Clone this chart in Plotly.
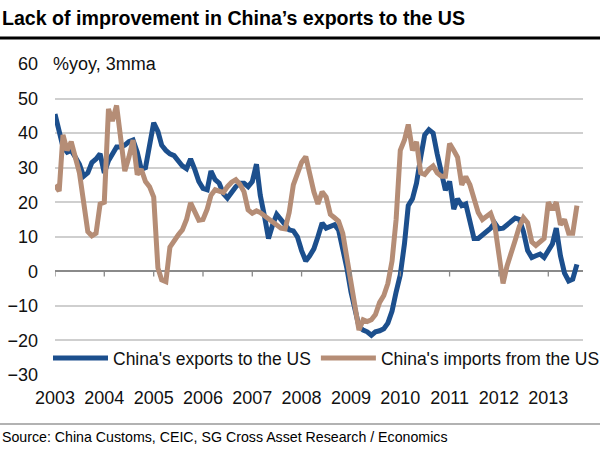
import pandas as pd
import plotly.graph_objects as go

# Monthly data, Jan 2003 - Aug 2013 (%yoy, 3mma)
start_month = "2003-01-01"
exports_to_us = [
    45.5, 41, 36, 34.5, 35, 33, 31, 27.5, 28.5, 31.5, 32.5, 34,
    28.5, 32, 34, 36, 36, 36.5, 37.5, 38, 34.5, 29.5, 30, 37,
    43, 40.5, 36.5, 35, 34, 33.5, 32, 30.5, 29.7, 32.5, 29.5, 26,
    24, 23.6, 29, 26.5, 25.5, 22.5, 21.2, 23, 24.5, 25.5, 25.5, 24.5,
    26, 31, 22, 16, 9.5, 13.5, 16.5, 15, 13.5, 12, 11.7, 10,
    6, 3, 4.5, 6.5, 10, 14, 12.5, 13, 13.5, 12, 7, 1,
    -6, -12, -16, -17, -17.5, -18.5, -17.5, -17.2, -16.6, -15, -11.5, -6,
    -1, 8, 19, 21, 25.5, 33, 39.5, 41, 40, 34, 28, 23.5,
    26, 18, 21, 19, 19.5, 14.5, 9.5, 9.5, 10.5, 11.2, 12.5, 14,
    12.3, 12.5, 13.3, 14.5, 15.4, 15, 11.5, 6, 4, 4.5, 5, 4,
    5.8, 8, 12.5, 4.5, -0.5, -2.8, -2.3, 2,
]
imports_from_us = [
    25, 23.2, 39.5, 35, 37.5, 33, 28.5, 20, 11.5, 10.3, 11, 19.5,
    20, 47, 43.5, 48, 38, 29, 33, 38, 28, 29.5, 26, 24.5,
    21.5, 1, -2.5, -3, 7, 9, 10.5, 12, 15, 19.8, 17.4, 14.8,
    15, 18, 22, 23.6, 23.2, 22.8, 24.5, 25.8, 26.5, 25.2, 23, 17.8,
    16.8, 17.5, 17, 16, 15, 14.3, 13.3, 12.5, 12.3, 17, 25, 28,
    31.5, 33.2, 27.5, 23, 19.5, 23, 21.5, 16.5, 15.5, 14.5, 11, 4,
    -5, -12, -17, -14, -14.5, -14, -12.5, -9, -7, -3.5, 3, 15,
    35, 38, 42.5, 35, 37.5, 28.5, 28, 29.5, 30.5, 28.5, 27.5, 27.5,
    37, 35, 33, 25, 27.4, 25, 21.5, 17, 15, 16, 16.8, 13.5,
    4, -3.5, 1.5, 6, 9, 13, 15.5, 14, 8.5, 7.5, 8.5, 9.5,
    20, 17.8, 20, 13.5, 15, 11, 11, 19,
]
year_labels = [str(y) for y in range(2003, 2014)]
y_ticks = [60, 50, 40, 30, 20, 10, 0, -10, -20, -30]
series_names = ["China's exports to the US", "China's imports from the US"]

dates = pd.date_range(start_month, periods=len(exports_to_us), freq="MS")

BLUE = "#1c4f8d"
TAN = "#b58d76"
FONT = "Liberation Sans, Arial, sans-serif"

W, H = 600, 450
ML, MR, MT, MB = 55, 17, 64, 75
plot_w = W - ML - MR
plot_h = H - MT - MB

fig = go.Figure()
fig.add_trace(go.Scatter(x=dates, y=exports_to_us, mode="lines",
                         name=series_names[0],
                         line=dict(color=BLUE, width=5)))
fig.add_trace(go.Scatter(x=dates, y=imports_from_us, mode="lines",
                         name=series_names[1],
                         line=dict(color=TAN, width=5)))

# tick marks on the zero axis at each year start
shapes = []
for y in year_labels:
    shapes.append(dict(type="line", xref="x", yref="y",
                       x0=f"{y}-01-01", x1=f"{y}-01-01", y0=0, y1=-1.5,
                       line=dict(color="#888888", width=1.3)))


def py(pix):
    return (H - MB - pix) / plot_h


def px(pix):
    return (pix - ML) / plot_w


# title rule and source rule
shapes.append(dict(type="line", xref="paper", yref="paper",
                   x0=px(0), x1=px(W), y0=py(38), y1=py(38),
                   line=dict(color="black", width=3)))
shapes.append(dict(type="line", xref="paper", yref="paper",
                   x0=px(0), x1=px(W), y0=py(424), y1=py(424),
                   line=dict(color="#999999", width=1.5)))

annotations = [
    dict(text="Lack of improvement in China\u2019s exports to the US",
         xref="paper", yref="paper", x=px(0), y=py(18),
         xanchor="left", yanchor="middle", showarrow=False,
         font=dict(family=FONT, size=19.6, color="black", weight="bold")),
    dict(text="%yoy, 3mma", xref="paper", yref="y", x=px(51), y=60,
         xanchor="left", yanchor="middle", showarrow=False,
         bgcolor="white", font=dict(family=FONT, size=18, color="#111111")),
    dict(text="Source: China Customs, CEIC, SG Cross Asset Research / Economics",
         xref="paper", yref="paper", x=px(0), y=py(437),
         xanchor="left", yanchor="middle", showarrow=False,
         font=dict(family=FONT, size=14.2, color="black")),
]

fig.update_layout(
    width=W, height=H,
    margin=dict(l=ML, r=MR, t=MT, b=MB, autoexpand=False),
    paper_bgcolor="white", plot_bgcolor="white",
    font=dict(family=FONT, size=18, color="#111111"),
    showlegend=True,
    legend=dict(orientation="h", x=px(48), y=py(376), xanchor="left",
                yanchor="bottom", bgcolor="rgba(0,0,0,0)",
                font=dict(size=17.5), itemwidth=55, tracegroupgap=0),
    shapes=shapes,
    annotations=annotations,
    xaxis=dict(type="date", range=["2003-01-01", "2013-09-15"],
               tickvals=[f"{y}-01-01" for y in year_labels],
               ticktext=year_labels, showgrid=False, showline=False,
               zeroline=False, ticks="", ticklabelstandoff=10),
    yaxis=dict(range=[-30, 60], tickvals=y_ticks, showgrid=True,
               gridcolor="#cfcfcf", gridwidth=1.6, zeroline=True,
               zerolinecolor="#8a8a8a", zerolinewidth=1.5,
               showline=False, ticks="", ticklabelstandoff=16),
)

fig.write_html("out.html",
               config={"displayModeBar": False},
               post_script="document.body.style.margin='0';")
